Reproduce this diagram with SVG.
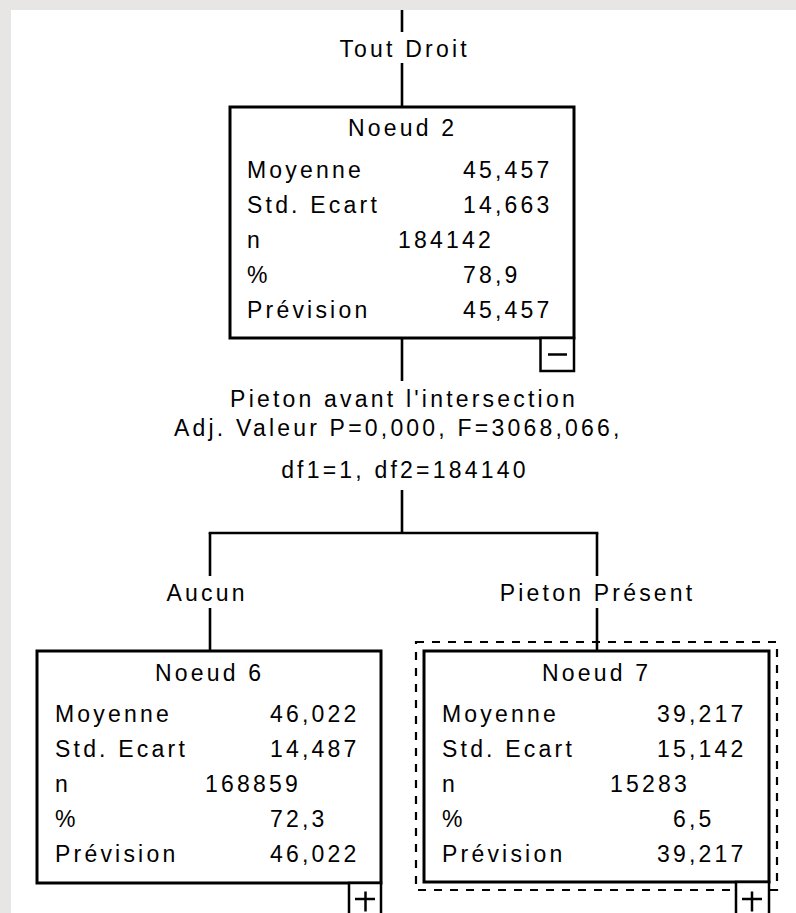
<svg xmlns="http://www.w3.org/2000/svg" width="796" height="913" viewBox="0 0 796 913">
<style>
text{font-family:"Liberation Sans",Arial,sans-serif;font-size:23px;letter-spacing:3.2px;fill:#000}
.c{text-anchor:middle}
.box{fill:#fff;stroke:#000;stroke-width:3}
.btn{fill:#fff;stroke:#000;stroke-width:2.5}
.sym{stroke:#000;stroke-width:2.5;fill:none}
.ln{stroke:#000;stroke-width:2.6;fill:none}
.sel{fill:none;stroke:#000;stroke-width:2.2;stroke-dasharray:8 8}
</style>
<rect x="0" y="0" width="796" height="913" fill="#e7e6e4"/>
<rect x="11" y="10" width="785" height="903" fill="#fff"/>

<g id="selection">
<rect class="sel" x="416" y="642" width="361" height="248"/>
</g>

<g id="connectors">
<line class="ln" x1="402" y1="10" x2="402" y2="32"/>
<line class="ln" x1="402" y1="63" x2="402" y2="107"/>
<line class="ln" x1="402" y1="338" x2="402" y2="381"/>
<line class="ln" x1="402" y1="490" x2="402" y2="533"/>
<line class="ln" x1="208.7" y1="533" x2="598.3" y2="533"/>
<line class="ln" x1="210" y1="533" x2="210" y2="576"/>
<line class="ln" x1="210" y1="608" x2="210" y2="651"/>
<line class="ln" x1="597" y1="533" x2="597" y2="576"/>
<line class="ln" x1="597" y1="608" x2="597" y2="651"/>
<text class="c" x="404.6" y="56.5">Tout Droit</text>
<text class="c" x="404" y="406.5">Pieton avant l'intersection</text>
<text class="c" x="398.3" y="436">Adj. Valeur P=0,000, F=3068,066,</text>
<text class="c" x="404.9" y="478">df1=1, df2=184140</text>
<text class="c" x="207.1" y="601">Aucun</text>
<text class="c" x="597.6" y="601">Pieton Présent</text>
</g>

<g id="node2">
<rect class="box" x="230" y="107" width="344" height="231"/>
<rect class="btn" x="540.5" y="338" width="33.5" height="33"/>
<line class="sym" x1="548" y1="354.5" x2="567" y2="354.5"/>
<text class="c" x="402.6" y="136">Noeud 2</text>
<text x="247" y="178">Moyenne</text>
<text x="463" y="178">45,457</text>
<text x="247" y="213">Std. Ecart</text>
<text x="463" y="213">14,663</text>
<text x="247" y="248">n</text>
<text x="398" y="248">184142</text>
<text x="247" y="283">%</text>
<text x="463" y="283">78,9</text>
<text x="247" y="318">Prévision</text>
<text x="463" y="318">45,457</text>
</g>

<g id="node6">
<rect class="box" x="37" y="651" width="344" height="232"/>
<rect class="btn" x="349" y="883" width="32" height="40"/>
<line class="sym" x1="355" y1="899" x2="375" y2="899"/>
<line class="sym" x1="365.5" y1="891.5" x2="365.5" y2="911.5"/>
<text class="c" x="209.6" y="681">Noeud 6</text>
<text x="55" y="722">Moyenne</text>
<text x="270" y="722">46,022</text>
<text x="55" y="757">Std. Ecart</text>
<text x="270" y="757">14,487</text>
<text x="55" y="792">n</text>
<text x="205" y="792">168859</text>
<text x="55" y="827">%</text>
<text x="270" y="827">72,3</text>
<text x="55" y="862">Prévision</text>
<text x="270" y="862">46,022</text>
</g>

<g id="node7">
<rect class="box" x="424" y="651" width="345" height="231"/>
<rect class="btn" x="736" y="882" width="33" height="40"/>
<line class="sym" x1="742" y1="899" x2="762" y2="899"/>
<line class="sym" x1="752" y1="891.5" x2="752" y2="911.5"/>
<text class="c" x="596.6" y="681">Noeud 7</text>
<text x="442" y="722">Moyenne</text>
<text x="657" y="722">39,217</text>
<text x="442" y="757">Std. Ecart</text>
<text x="657" y="757">15,142</text>
<text x="442" y="792">n</text>
<text x="610" y="792">15283</text>
<text x="442" y="827">%</text>
<text x="673" y="827">6,5</text>
<text x="442" y="862">Prévision</text>
<text x="657" y="862">39,217</text>
</g>
</svg>
